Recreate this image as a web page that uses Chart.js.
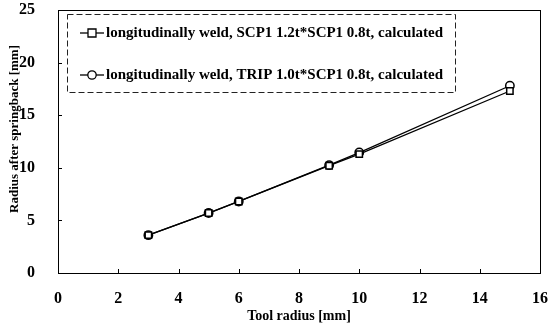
<!DOCTYPE html>
<html>
<head>
<meta charset="utf-8">
<script src="https://cdn.jsdelivr.net/npm/chart.js@4.4.0/dist/chart.umd.min.js"></script>
<style>
  html, body { margin: 0; padding: 0; background: #fff; }
  #wrap { width: 559px; height: 325px; }
</style>
</head>
<body>
<div id="wrap"><canvas id="springback"></canvas></div>
<script>
const toolRadius = [3, 5, 6, 9, 10, 15];
const scp1Radius = [3.6, 5.7, 6.8, 10.2, 11.3, 17.3];
const tripRadius = [3.6, 5.7, 6.8, 10.25, 11.45, 17.8];
const seriesLabels = [
  'longitudinally weld, SCP1 1.2t*SCP1 0.8t, calculated',
  'longitudinally weld, TRIP 1.0t*SCP1 0.8t, calculated'
];
const xTitle = 'Tool radius [mm]';
const yTitle = 'Radius after springback [mm]';
const xTicks = [0, 2, 4, 6, 8, 10, 12, 14, 16];
const yTicks = [0, 5, 10, 15, 20, 25];

const serif = '"Liberation Serif", "Times New Roman", serif';

const toPoints = (xs, ys) => xs.map((x, i) => ({ x: x, y: ys[i] }));

// frame, inward tick marks and the y title (sits a bit above centre in the original)
const frame = {
  id: 'frame',
  afterDatasetsDraw(chart) {
    const { ctx, chartArea: a, scales } = chart;
    ctx.save();
    ctx.strokeStyle = '#000';
    ctx.lineWidth = 1;
    ctx.strokeRect(a.left + 0.5, a.top + 0.5, a.right - a.left, a.bottom - a.top);
    ctx.beginPath();
    xTicks.forEach(v => {
      const px = Math.round(scales.x.getPixelForValue(v)) + 0.5;
      ctx.moveTo(px, a.bottom);
      ctx.lineTo(px, a.bottom - 4);
    });
    yTicks.forEach(v => {
      const py = Math.round(scales.y.getPixelForValue(v)) + 0.5;
      ctx.moveTo(a.left, py);
      ctx.lineTo(a.left + 4, py);
    });
    ctx.stroke();

    ctx.translate(15, 129);
    ctx.rotate(-Math.PI / 2);
    ctx.fillStyle = '#000';
    ctx.font = 'bold 13px ' + serif;
    ctx.textAlign = 'center';
    ctx.textBaseline = 'middle';
    ctx.fillText(yTitle, 0, 0);
    ctx.restore();
  }
};

// legend drawn in a dashed box inside the plot
const boxLegend = {
  id: 'boxLegend',
  afterDraw(chart) {
    const { ctx } = chart;
    const left = 67, top = 14, w = 388, h = 78;
    ctx.save();
    ctx.fillStyle = '#fff';
    ctx.fillRect(left, top, w, h);
    ctx.setLineDash([6, 3]);
    ctx.strokeStyle = '#222';
    ctx.lineWidth = 1;
    ctx.strokeRect(left + 0.5, top + 0.5, w, h);
    ctx.setLineDash([]);
    chart.data.datasets.forEach((ds, i) => {
      const y = 33 + i * 42;
      ctx.strokeStyle = '#000';
      ctx.lineWidth = 1.3;
      ctx.beginPath();
      ctx.moveTo(80, y);
      ctx.lineTo(104, y);
      ctx.stroke();
      ctx.fillStyle = '#fff';
      ctx.beginPath();
      if (ds.pointStyle === 'rect') {
        ctx.rect(88, y - 4, 8, 8);
      } else {
        ctx.arc(92, y, 4.2, 0, Math.PI * 2);
      }
      ctx.fill();
      ctx.stroke();
      ctx.fillStyle = '#000';
      ctx.font = 'bold 15px ' + serif;
      ctx.textBaseline = 'middle';
      ctx.textAlign = 'left';
      ctx.fillText(ds.label, 106, y);
    });
    ctx.restore();
  }
};

const data = {
  datasets: [
    {
      label: seriesLabels[0],
      data: toPoints(toolRadius, scp1Radius),
      showLine: true,
      borderColor: '#000',
      borderWidth: 1.3,
      pointStyle: 'rect',
      pointRadius: 4.5,
      pointBorderWidth: 1.5,
      pointBackgroundColor: '#fff',
      pointBorderColor: '#000'
    },
    {
      label: seriesLabels[1],
      data: toPoints(toolRadius, tripRadius),
      showLine: true,
      borderColor: '#000',
      borderWidth: 1.3,
      pointStyle: 'circle',
      pointRadius: 4.2,
      pointBorderWidth: 1.5,
      pointBackgroundColor: '#fff',
      pointBorderColor: '#000'
    }
  ]
};

const config = {
  type: 'scatter',
  data: data,
  options: {
    responsive: true,
    maintainAspectRatio: false,
    animation: false,
    layout: { padding: { left: 0, right: 19, top: 10, bottom: 0 } },
    plugins: {
      legend: { display: false },
      tooltip: { enabled: false }
    },
    scales: {
      x: {
        type: 'linear',
        min: 0,
        max: 16,
        afterBuildTicks: s => { s.ticks = xTicks.map(v => ({ value: v })); },
        afterFit: s => { s.height = 52; s.paddingLeft = 0; s.paddingRight = 0; },
        grid: { display: false },
        border: { display: false },
        ticks: {
          color: '#000',
          padding: 8,
          font: { family: serif, size: 16, weight: 'bold' }
        },
        title: {
          display: true,
          text: xTitle,
          color: '#000',
          padding: { top: 0, bottom: 0 },
          font: { family: serif, size: 14, weight: 'bold' }
        }
      },
      y: {
        type: 'linear',
        min: 0,
        max: 25,
        afterBuildTicks: s => { s.ticks = yTicks.map(v => ({ value: v })); },
        afterFit: s => { s.width = 58; s.paddingTop = 0; s.paddingBottom = 0; },
        grid: { display: false },
        border: { display: false },
        ticks: {
          color: '#000',
          padding: 15,
          font: { family: serif, size: 16, weight: 'bold' }
        }
      }
    }
  },
  plugins: [frame, boxLegend]
};

new Chart(document.getElementById('springback'), config);
</script>
</body>
</html>
